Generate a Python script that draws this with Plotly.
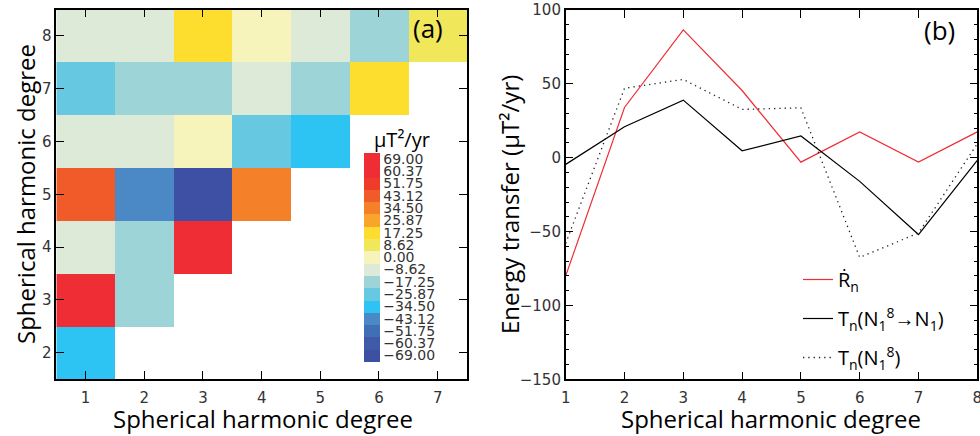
import plotly.graph_objects as go

# ---------------- data ----------------
# panel (a): energy transfer matrix, columns = degree 1..7, rows = degree 2..8
col_degrees = [1, 2, 3, 4, 5, 6, 7]
row_degrees = [2, 3, 4, 5, 6, 7, 8]
row2 = [-34.5, None, None, None, None, None, None]
row3 = [66.0, -17.25, None, None, None, None, None]
row4 = [-8.62, -17.25, 66.0, None, None, None, None]
row5 = [43.12, -43.12, -69.0, 34.5, None, None, None]
row6 = [-8.62, -8.62, 0.0, -25.87, -34.5, None, None]
row7 = [-25.87, -17.25, -17.25, -8.62, -17.25, 17.25, None]
row8 = [-8.62, -8.62, 17.25, 0.0, -8.62, -17.25, 8.62]

cbar_values = [69.00, 60.37, 51.75, 43.12, 34.50, 25.87, 17.25, 8.62, 0.00,
               -8.62, -17.25, -25.87, -34.50, -43.12, -51.75, -60.37, -69.00]
cbar_labels = ["69.00", "60.37", "51.75", "43.12", "34.50", "25.87", "17.25", "8.62", "0.00",
               "\u22128.62", "\u221217.25", "\u221225.87", "\u221234.50", "\u221243.12",
               "\u221251.75", "\u221260.37", "\u221269.00"]
# colours from lowest bin (-69) to highest (69)
bin_colors = ["#3D50A3", "#3F5BA8", "#3F70B5", "#4A88C6", "#2DC3F2", "#66C9E1",
              "#9CD4D7", "#DCEAD7", "#F7F4BB", "#F0E75A", "#FDDE2E", "#F9A42A",
              "#F4812A", "#F15B2A", "#EE3C2B", "#EE2D35", "#EE2D35"]

# panel (b): energy transfer by degree
degrees = [1, 2, 3, 4, 5, 6, 7, 8]
r_dot = [-80.0, 34.0, 86.5, 45.5, -3.0, 17.5, -3.0, 17.5]
t_n_to_n1 = [-4.5, 21.0, 39.0, 4.7, 14.7, -16.0, -52.0, -1.8]
t_n = [-58.0, 47.0, 53.0, 32.7, 33.8, -67.5, -51.0, 9.5]

# ---------------- styling helpers ----------------
W, H = 980, 436
def px(x):
    return x / W
def py(y):
    return (H - y) / H

TICKFONT = dict(family="DejaVu Sans", size=15, color="#333333")
TITLEFONT = dict(family="Open Sans", size=24, color="black")

zmin, zmax = -73.3125, 73.3125
n = len(bin_colors)
colorscale = []
for i, c in enumerate(bin_colors):
    colorscale.append([i / n, c])
    colorscale.append([(i + 1) / n, c])

fig = go.Figure()

fig.add_trace(go.Heatmap(
    x=col_degrees, y=row_degrees,
    z=[row2, row3, row4, row5, row6, row7, row8],
    zmin=zmin, zmax=zmax, colorscale=colorscale,
    xaxis="x", yaxis="y", hoverongaps=False,
    colorbar=dict(
        x=px(364), xanchor="left", xpad=0,
        y=py(257.2), yanchor="middle", ypad=0,
        len=209, lenmode="pixels", thickness=16,
        outlinewidth=0, ticks="",
        tickvals=cbar_values, ticktext=cbar_labels,
        tickfont=dict(family="DejaVu Sans", size=14, color="#333333"),
    ),
))

fig.add_trace(go.Scatter(
    x=degrees, y=r_dot, mode="lines", xaxis="x2", yaxis="y2",
    line=dict(color="#EE2D35", width=1.2),
    name="\u1E58<sub>n</sub>", legendgroup="a",
))
fig.add_trace(go.Scatter(
    x=degrees, y=t_n_to_n1, mode="lines", xaxis="x2", yaxis="y2",
    line=dict(color="black", width=1.2),
    name="T<sub>n</sub>(N<sub>1</sub><sup>8</sup>\u2192N<sub>1</sub>)", legendgroup="b",
))
fig.add_trace(go.Scatter(
    x=degrees, y=t_n, mode="lines", xaxis="x2", yaxis="y2",
    line=dict(color="#222222", width=1.3, dash="1.3px,4px"),
    name="T<sub>n</sub>(N<sub>1</sub><sup>8</sup>)", legendgroup="c",
))

axis_common = dict(
    showgrid=False, zeroline=False, showline=True, linecolor="black", linewidth=1.5,
    mirror="ticks", ticks="inside", ticklen=8, tickwidth=1, tickcolor="black",
    tickfont=TICKFONT, ticklabeloverflow="allow",
)

fig.update_layout(
    width=W, height=H, margin=dict(l=0, r=0, t=0, b=0, autoexpand=False),
    paper_bgcolor="white", plot_bgcolor="white",
    xaxis=dict(domain=[px(56.3), px(467)], range=[0.5, 7.5], tickvals=col_degrees,
               anchor="y", ticklabelstandoff=4, **axis_common),
    yaxis=dict(domain=[py(379.1), py(9.6)], range=[1.5, 8.5], tickvals=row_degrees,
               anchor="x", **axis_common),
    xaxis2=dict(domain=[px(565.7), px(977.3)], range=[1, 8], tickvals=degrees,
                anchor="y2", ticklabelstandoff=4, **axis_common),
    yaxis2=dict(domain=[py(379.3), py(10)], range=[-150, 100], dtick=50,
                minor=dict(dtick=10, ticklen=4, ticks="inside", tickcolor="black"),
                anchor="x2", **axis_common),
    showlegend=True,
    legend=dict(x=px(798), y=py(260), xanchor="left", yanchor="top",
                bgcolor="rgba(0,0,0,0)", tracegroupgap=10,
                font=dict(family="Open Sans", size=20, color="black")),
    annotations=[
        dict(text="Spherical harmonic degree", x=px(263), y=py(418), xref="paper", yref="paper",
             showarrow=False, font=TITLEFONT, xanchor="center", yanchor="middle"),
        dict(text="Spherical harmonic degree", x=px(771), y=py(418), xref="paper", yref="paper",
             showarrow=False, font=TITLEFONT, xanchor="center", yanchor="middle"),
        dict(text="Spherical harmonic degree", x=px(25), y=py(194), xref="paper", yref="paper",
             showarrow=False, font=TITLEFONT, textangle=-90, xanchor="center", yanchor="middle"),
        dict(text="Energy transfer (\u03bcT\u00b2/yr)", x=px(509), y=py(205), xref="paper", yref="paper",
             showarrow=False, font=TITLEFONT, textangle=-90, xanchor="center", yanchor="middle"),
        dict(text="\u03bcT\u00b2/yr", x=px(402), y=py(139), xref="paper", yref="paper",
             showarrow=False, font=dict(family="Open Sans", size=20, color="black"),
             xanchor="center", yanchor="middle"),
        dict(text="(a)", x=px(428), y=py(28), xref="paper", yref="paper",
             showarrow=False, font=dict(family="Open Sans", size=26, color="black"),
             xanchor="center", yanchor="middle"),
        dict(text="(b)", x=px(939), y=py(30), xref="paper", yref="paper",
             showarrow=False, font=dict(family="Open Sans", size=26, color="black"),
             xanchor="center", yanchor="middle"),
    ],
)

fig.write_html(
    "out.html",
    config={"displayModeBar": False},
    post_script="document.body.style.margin='0';document.body.style.padding='0';"
                "document.body.style.overflow='hidden';",
)
